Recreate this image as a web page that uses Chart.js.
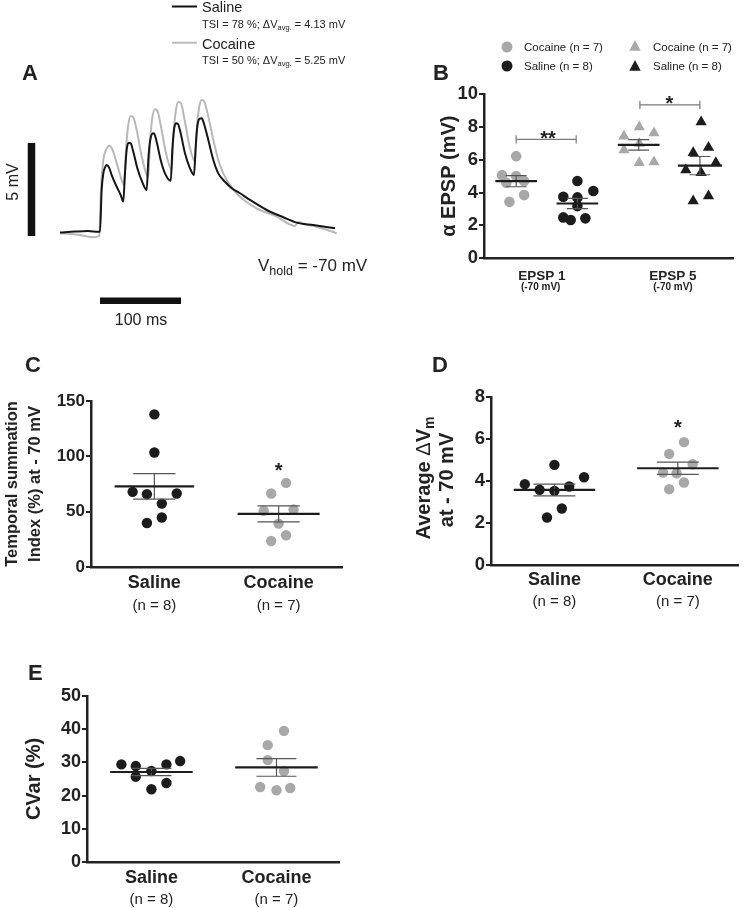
<!DOCTYPE html>
<html>
<head>
<meta charset="utf-8">
<script src="https://cdn.jsdelivr.net/npm/chart.js@4.4.0/dist/chart.umd.min.js"></script>
<style>
  body { margin: 0; background: #fff; }
  #fig { position: relative; width: 744px; height: 908px; overflow: hidden; font-family: 'Liberation Sans', Arial, sans-serif; }
  canvas { position: absolute; }
  svg { position: absolute; left: 0; top: 0; pointer-events: none; }
  svg text { font-family: 'Liberation Sans', Arial, sans-serif; fill: #222; }
</style>
</head>
<body>
<div id="fig">
  <canvas id="chartA" width="380" height="245" style="left:0;top:85px"></canvas>
  <canvas id="chartB" width="360" height="224" style="left:380px;top:84px"></canvas>
  <canvas id="chartC" width="350" height="230" style="left:0;top:390px"></canvas>
  <canvas id="chartD" width="364" height="234" style="left:380px;top:386px"></canvas>
  <canvas id="chartE" width="350" height="223" style="left:0;top:685px"></canvas>

  <svg width="744" height="908">
    <!-- panel A legend -->
    <line x1="172" y1="6.5" x2="197" y2="6.5" stroke="#111" stroke-width="2"/>
    <text x="202" y="12" font-size="14.5">Saline</text>
    <text x="202" y="27.5" font-size="11">TSI = 78 %;  ΔV<tspan font-size="7.5" dy="2">avg.</tspan><tspan dy="-2"> = 4.13 mV</tspan></text>
    <line x1="172" y1="42.7" x2="197" y2="42.7" stroke="#bbb" stroke-width="2"/>
    <text x="202" y="48.5" font-size="14.5">Cocaine</text>
    <text x="202" y="64" font-size="11">TSI = 50 %;  ΔV<tspan font-size="7.5" dy="2">avg.</tspan><tspan dy="-2"> = 5.25 mV</tspan></text>

    <!-- panel letters -->
    <text x="22" y="80" font-size="22" font-weight="bold">A</text>
    <text x="433" y="80" font-size="22" font-weight="bold">B</text>
    <text x="25" y="372" font-size="22" font-weight="bold">C</text>
    <text x="432" y="372" font-size="22" font-weight="bold">D</text>
    <text x="28" y="680" font-size="22" font-weight="bold">E</text>

    <!-- panel A scale bar labels -->
    <text transform="translate(17.5,182) rotate(-90)" text-anchor="middle" font-size="16">5 mV</text>
    <text x="141" y="325" text-anchor="middle" font-size="16">100 ms</text>
    <text x="258" y="271" font-size="17">V<tspan font-size="12.5" dy="3.5">hold</tspan><tspan dy="-3.5"> = -70 mV</tspan></text>

    <!-- panel B legend -->
    <circle cx="507" cy="47" r="5.5" fill="#a8a8a8"/>
    <text x="524" y="51" font-size="11.5">Cocaine (n = 7)</text>
    <circle cx="507" cy="66" r="5.5" fill="#1c1c1c"/>
    <text x="524" y="70" font-size="11.5">Saline (n = 8)</text>
    <polygon points="635,40 640.7,50.7 629.3,50.7" fill="#a8a8a8"/>
    <text x="653" y="51" font-size="11.5">Cocaine (n = 7)</text>
    <polygon points="635,60 640.7,70.7 629.3,70.7" fill="#1c1c1c"/>
    <text x="653" y="70" font-size="11.5">Saline (n = 8)</text>

    <!-- panel D y title (needs a subscript) -->
    <text transform="translate(429.5,478) rotate(-90)" text-anchor="middle" font-size="20" font-weight="bold">Average <tspan font-weight="normal">Δ</tspan>V<tspan font-size="14" dy="4">m</tspan></text>
    <text transform="translate(453,480) rotate(-90)" text-anchor="middle" font-size="20" font-weight="bold">at - 70 mV</text>
  </svg>
</div>

<script>
// ---- Panel A: averaged EPSP trains (time in ms, depolarisation from the -70 mV baseline in mV)
const salineT = [0, 18.5, 34.6, 47.3, 49.4, 51.4, 53.5, 55.6, 57.6, 60.5, 63.8, 70, 74.9, 78.1,
  80.2, 82.3, 84.8, 87.2, 90.5, 95.5, 102.1, 107, 109, 111.1, 113.6, 116, 119.3, 124.3, 129.6, 136.7,
  138.7, 140.7, 143.2, 145.7, 149, 154.3, 160.5, 165.4, 167.5, 169.5, 172, 174.9, 178.2, 183.1, 189.3,
  195.4, 203.7, 212, 222.2, 234.6, 255.2, 275.7, 292.2, 312.7, 339.5];
const salineV = [0, 0.05, 0.08, 0.04, 0.04, 2.28, 3.18, 3.5, 3.63, 3.5, 3.09, 2.46, 2.02, 1.66,
  3.18, 4.44, 4.83, 4.8, 4.34, 3.45, 2.65, 2.28, 3.9, 4.88, 5.3, 5.33, 4.88, 3.9, 3.18, 2.78,
  4.44, 5.51, 5.87, 5.83, 5.33, 4.26, 3.45, 3.09, 4.61, 5.69, 6.1, 6.14, 5.78, 4.97, 3.9,
  3.18, 2.73, 2.38, 2.11, 1.75, 1.21, 0.82, 0.53, 0.4, 0.23];
const cocaineT = [0, 24.7, 41.1, 48.5, 50.6, 53.5, 56.8, 60.9, 65, 70, 74.9, 79,
  81.5, 84, 87.2, 90.5, 94.7, 100.9, 109, 111.1, 113.6, 116.9, 120.1, 124.3, 130.5, 137.9,
  139.9, 142.8, 146, 149.4, 153.1, 159.6, 166.7, 168.8, 171.6, 174.9, 178.2, 183.1, 189.3, 195.4,
  201.6, 209.9, 222.2, 242.8, 267.5, 290.1, 294.2, 300.4, 316.9, 341.6];
const cocaineV = [-0.04, -0.13, -0.26, -0.19, 2.28, 3.9, 4.44, 4.67, 4.44, 3.72, 3.0, 2.55,
  4.44, 5.69, 6.26, 6.19, 5.51, 4.08, 3.0, 4.8, 6.05, 6.62, 6.55, 5.78, 4.34, 3.36,
  5.15, 6.49, 7.02, 6.95, 6.23, 4.7, 3.81, 5.51, 6.68, 7.12, 7.03, 6.23, 4.97, 3.9,
  3.18, 2.55, 1.92, 1.30, 0.85, 0.35, 0.58, 0.46, 0.31, -0.04];
const scaleBarMs = 100, scaleBarMv = 5;

// ---- Panel B: EPSP amplitude (mV); x = jittered group position
const epsp1CocaineX = [1.0, 0.77, 1.0, 1.13, 0.84, 1.13, 0.89];
const epsp1CocaineY = [6.22, 5.06, 5.0, 4.7, 4.6, 3.84, 3.43];
const epsp1SalineX = [2.0, 1.77, 2.0, 2.26, 2.0, 1.77, 1.89, 2.13];
const epsp1SalineY = [4.7, 3.74, 3.7, 4.09, 3.17, 2.48, 2.32, 2.42];
const epsp5CocaineX = [3.01, 2.76, 3.25, 2.76, 3.01, 3.01, 3.25];
const epsp5CocaineY = [8.0, 7.44, 7.64, 6.59, 7.0, 5.81, 5.87];
const epsp5SalineX = [4.02, 4.14, 3.89, 4.26, 3.77, 4.02, 3.89, 4.14];
const epsp5SalineY = [8.31, 6.75, 6.42, 5.81, 5.37, 5.2, 3.48, 3.78];
const epspTicks = [1.42, 3.56];
const epspLabels = ['EPSP 1', 'EPSP 5'];

// ---- Panel C: temporal summation index (%)
const groups = ['Saline', 'Cocaine'];
const groupN = ['(n = 8)', '(n = 7)'];
const tsiSalineX = [1.0, 1.0, 0.825, 0.94, 1.18, 1.06, 1.06, 0.94];
const tsiSalineY = [137.9, 103.5, 67.9, 65.8, 66.4, 57.3, 44.7, 39.8];
const tsiCocaineX = [2.06, 1.94, 1.88, 2.12, 2.0, 2.06, 1.94];
const tsiCocaineY = [76, 66.4, 50.7, 51.9, 39.2, 28.7, 23.5];

// ---- Panel D: average delta Vm (mV)
const dvSalineX = [1.0, 0.76, 0.88, 1.0, 1.12, 1.24, 1.06, 0.94];
const dvSalineY = [4.77, 3.85, 3.58, 3.53, 3.74, 4.18, 2.69, 2.26];
const dvCocaineX = [2.05, 1.93, 2.12, 1.88, 1.99, 2.05, 1.93];
const dvCocaineY = [5.85, 5.29, 4.8, 4.4, 4.37, 3.93, 3.61];

// ---- Panel E: CVar (%)
const cvSalineX = [0.76, 0.875, 0.875, 1.0, 1.12, 1.23, 1.12, 1.0];
const cvSalineY = [29.4, 28.9, 25.7, 27.4, 29.4, 30.4, 23.8, 21.9];
const cvCocaineX = [2.06, 1.93, 1.93, 2.06, 1.87, 2.0, 2.11];
const cvCocaineY = [39.5, 35.2, 30.7, 27.4, 22.6, 21.6, 22.3];

const GREY = '#a8a8a8', BLACK = '#1c1c1c', SEMC = '#555', INK = '#222';
Chart.defaults.font.family = "'Liberation Sans', Arial, sans-serif";
Chart.defaults.color = INK;

function pts(xs, ys) { return xs.map((x, i) => ({ x: x, y: ys[i] })); }

function dots(xs, ys, color, style, r) {
  return { data: pts(xs, ys), backgroundColor: color, borderWidth: 0, pointStyle: style,
           pointRadius: r, pointHoverRadius: r, order: 2 };
}

function seg(x1, y1, x2, y2, color, w, order) {
  return { data: [{ x: x1, y: y1 }, { x: x2, y: y2 }], showLine: true, borderColor: color,
           borderWidth: w, pointRadius: 0, borderCapStyle: 'butt', order: order };
}

function stats(v) {
  const n = v.length;
  const m = v.reduce((a, b) => a + b, 0) / n;
  const sd = Math.sqrt(v.reduce((a, b) => a + (b - m) * (b - m), 0) / (n - 1));
  return { m: m, sem: sd / Math.sqrt(n) };
}

// mean line + SEM bar for one group
function summary(c, ys, halfMean, halfCap) {
  const s = stats(ys);
  return [
    seg(c - halfMean, s.m, c + halfMean, s.m, BLACK, 2.2, 0),
    seg(c, s.m - s.sem, c, s.m + s.sem, SEMC, 1.2, 1),
    seg(c - halfCap, s.m + s.sem, c + halfCap, s.m + s.sem, SEMC, 1.2, 1),
    seg(c - halfCap, s.m - s.sem, c + halfCap, s.m - s.sem, SEMC, 1.2, 1)
  ];
}

function bracket(x1, x2, y, h) {
  const c = '#7a7a7a';
  return [seg(x1, y, x2, y, c, 1.2, 1), seg(x1, y - h, x1, y + h, c, 1.2, 1), seg(x2, y - h, x2, y + h, c, 1.2, 1)];
}

// text drawn in data / axis coordinates: stars and sub-labels under the categories
const notesPlugin = {
  id: 'notes',
  afterDatasetsDraw(chart, args, opts) {
    const ctx = chart.ctx, x = chart.scales.x, y = chart.scales.y;
    (opts.items || []).forEach(n => {
      ctx.save();
      ctx.font = n.font;
      ctx.fillStyle = INK;
      ctx.textAlign = 'center';
      const px = x.getPixelForValue(n.x);
      if (n.y !== undefined) {
        ctx.textBaseline = 'alphabetic';
        ctx.fillText(n.text, px, y.getPixelForValue(n.y) + n.lift);
      } else {
        ctx.textBaseline = 'middle';
        ctx.fillText(n.text, px, chart.chartArea.bottom + n.dy);
      }
      ctx.restore();
    });
  }
};

function yAxis(min, max, step, width, size, title) {
  return {
    min: min, max: max,
    ticks: { stepSize: step, font: { size: size, weight: 'bold', lineHeight: 1 }, color: INK, padding: 1 },
    grid: { drawOnChartArea: false, color: INK, lineWidth: 2, tickLength: 5 },
    border: { color: INK, width: 2.5 },
    title: title,
    afterFit(s) { s.width = width; }
  };
}

function xAxis(min, max, at, labels, size, pad, height) {
  return {
    type: 'linear', min: min, max: max,
    afterBuildTicks(s) { s.ticks = at.map(v => ({ value: v })); },
    ticks: { callback: (v, i) => labels[i], font: { size: size, weight: 'bold' }, color: INK,
             padding: pad, maxRotation: 0, autoSkip: false },
    grid: { display: false, drawTicks: false },
    border: { color: INK, width: 2.5 },
    afterFit(s) { s.height = height; }
  };
}

function panel(id, datasets, padding, x, y, notes) {
  new Chart(document.getElementById(id), {
    type: 'scatter',
    data: { datasets: datasets },
    options: {
      responsive: false, animation: false, events: [],
      layout: { padding: padding },
      plugins: { legend: { display: false }, tooltip: { enabled: false }, notes: { items: notes } },
      scales: { x: x, y: y }
    },
    plugins: [notesPlugin]
  });
}

// ---- A
const barT = -35.2, barV = -3.67;
new Chart(document.getElementById('chartA'), {
  type: 'scatter',
  data: {
    datasets: [
      { data: pts(salineT, salineV), showLine: true, borderColor: '#151515', borderWidth: 2,
        pointRadius: 0, cubicInterpolationMode: 'monotone' },
      { data: pts(cocaineT, cocaineV), showLine: true, borderColor: '#b8b8b8', borderWidth: 2,
        pointRadius: 0, cubicInterpolationMode: 'monotone' },
      seg(barT, -0.19, barT, -0.19 + scaleBarMv, '#111', 7.5, 0),
      seg(49.4, barV, 49.4 + scaleBarMs, barV, '#111', 6.5, 0)
    ]
  },
  options: {
    responsive: false, animation: false, events: [],
    layout: { padding: 0 },
    plugins: { legend: { display: false }, tooltip: { enabled: false } },
    scales: {
      x: { display: false, min: -74.07, max: 395.06 },
      y: { display: false, min: -5.242, max: 7.930 }
    }
  }
});

// ---- B
const starFont = 'bold 20px "Liberation Sans", Arial, sans-serif';
panel('chartB',
  [].concat(
    summary(1, epsp1CocaineY, 0.34, 0.17), summary(2, epsp1SalineY, 0.34, 0.17),
    summary(3, epsp5CocaineY, 0.34, 0.17), summary(4, epsp5SalineY, 0.36, 0.17),
    bracket(1, 1.98, 7.24, 0.25), bracket(3.02, 4.0, 9.35, 0.25),
    [dots(epsp1CocaineX, epsp1CocaineY, GREY, 'circle', 5.3),
     dots(epsp1SalineX, epsp1SalineY, BLACK, 'circle', 5.3),
     dots(epsp5CocaineX, epsp5CocaineY, GREY, 'triangle', 6.5),
     dots(epsp5SalineX, epsp5SalineY, BLACK, 'triangle', 6.5)]
  ),
  { top: 10, right: 7, left: 0, bottom: 0 },
  xAxis(0.475, 4.54, epspTicks, epspLabels, 13.5, 10, 50),
  yAxis(0, 10, 2, 104, 18.5, { display: true, text: 'α EPSP (mV)', font: { size: 20, weight: 'bold' }, padding: { top: 57, bottom: 0 }, color: INK }),
  [
    { x: 1.52, y: 7.56, lift: 10.5, text: '**', font: starFont },
    { x: 3.5, y: 9.68, lift: 10.5, text: '*', font: starFont },
    { x: 1.4, dy: 29.3, text: '(-70 mV)', font: 'bold 10px "Liberation Sans", Arial, sans-serif' },
    { x: 3.56, dy: 29.3, text: '(-70 mV)', font: 'bold 10px "Liberation Sans", Arial, sans-serif' }
  ]
);

const nFont = '15px "Liberation Sans", Arial, sans-serif';

// ---- C
panel('chartC',
  [].concat(
    summary(1, tsiSalineY, 0.32, 0.17), summary(2, tsiCocaineY, 0.33, 0.17),
    [dots(tsiSalineX, tsiSalineY, BLACK, 'circle', 5.2), dots(tsiCocaineX, tsiCocaineY, GREY, 'circle', 5.2)]
  ),
  { top: 11, right: 8, left: 0, bottom: 0 },
  xAxis(0.49, 2.51, [1, 2], groups, 18, 5, 53),
  yAxis(0, 150, 50, 91, 17, { display: true, text: ['Temporal summation', 'Index (%) at - 70 mV'], font: { size: 16.5, weight: 'bold', lineHeight: 1.4 }, padding: { top: 0.5, bottom: 0 }, color: INK }),
  [
    { x: 2, y: 90.5, lift: 10.5, text: '*', font: starFont },
    { x: 1, dy: 38.7, text: groupN[0], font: nFont },
    { x: 2, dy: 38.7, text: groupN[1], font: nFont }
  ]
);

// ---- D
panel('chartD',
  [].concat(
    summary(1, dvSalineY, 0.33, 0.17), summary(2, dvCocaineY, 0.33, 0.17),
    [dots(dvSalineX, dvSalineY, BLACK, 'circle', 5.2), dots(dvCocaineX, dvCocaineY, GREY, 'circle', 5.2)]
  ),
  { top: 11, right: 2, left: 0, bottom: 0 },
  xAxis(0.486, 2.494, [1, 2], groups, 18, 4, 55),
  yAxis(0, 8, 2, 111, 18.5, { display: false }),
  [
    { x: 2, y: 6.73, lift: 10.5, text: '*', font: starFont },
    { x: 1, dy: 36.7, text: groupN[0], font: nFont },
    { x: 2, dy: 36.7, text: groupN[1], font: nFont }
  ]
);

// ---- E
panel('chartE',
  [].concat(
    summary(1, cvSalineY, 0.33, 0.16), summary(2, cvCocaineY, 0.33, 0.16),
    [dots(cvSalineX, cvSalineY, BLACK, 'circle', 5.2), dots(cvCocaineX, cvCocaineY, GREY, 'circle', 5.2)]
  ),
  { top: 11, right: 11, left: 0, bottom: 0 },
  xAxis(0.485, 2.5, [1, 2], groups, 18, 5, 46),
  yAxis(0, 50, 10, 87, 18, { display: true, text: 'CVar (%)', font: { size: 20, weight: 'bold' }, padding: { top: 22, bottom: 0 }, color: INK }),
  [
    { x: 1, dy: 38, text: groupN[0], font: nFont },
    { x: 2, dy: 38, text: groupN[1], font: nFont }
  ]
);
</script>
</body>
</html>
